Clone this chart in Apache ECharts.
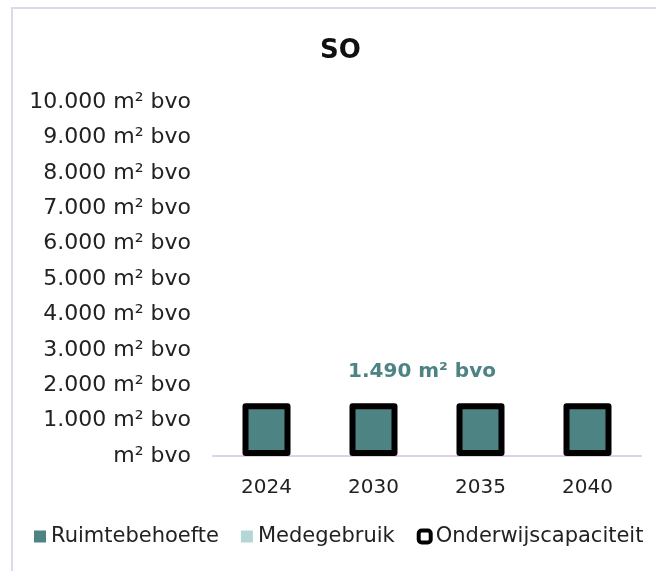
<!DOCTYPE html>
<html><head><meta charset="utf-8">
<script src="https://cdn.jsdelivr.net/npm/echarts@6/dist/echarts.min.js"></script>
<style>html,body{margin:0;padding:0;background:#fff}#c{width:656px;height:571px}</style>
</head><body><div id="c"></div>
<script>
const categories = ['2024', '2030', '2035', '2040'];
const ruimtebehoefte = [1420, 1420, 1470, 1470];
const medegebruik = [40, 40, 0, 0];
const onderwijscapaciteit = [1490, 1490, 1490, 1490];
const yTickLabels = ['m² bvo', '1.000 m² bvo', '2.000 m² bvo', '3.000 m² bvo', '4.000 m² bvo', '5.000 m² bvo',
  '6.000 m² bvo', '7.000 m² bvo', '8.000 m² bvo', '9.000 m² bvo', '10.000 m² bvo'];
const capacityLabel = '1.490 m² bvo';

const FONT = 'DejaVu Sans';
const chart = echarts.init(document.getElementById('c'), null, {renderer: 'canvas'});
chart.setOption({
  animation: false,
  backgroundColor: '#fff',
  title: {text: 'SO', left: 315, top: 33,
    textStyle: {fontFamily: FONT, fontSize: 26, fontWeight: 'bold', color: '#111'}},
  grid: {left: 213, right: 15, top: 102, bottom: 115},
  legend: {
    left: 29, top: 521, itemWidth: 12, itemHeight: 12, itemGap: 22,
    textStyle: {fontFamily: FONT, fontSize: 21, color: '#222'},
    data: [
      {name: 'Ruimtebehoefte', icon: 'rect'},
      {name: 'Medegebruik', icon: 'rect'},
      {name: 'Onderwijscapaciteit', icon: 'roundRect', itemStyle: {color: '#fff', borderColor: '#000', borderWidth: 4}}
    ]
  },
  xAxis: [
    {type: 'category', data: categories,
      axisLine: {lineStyle: {color: '#dcd3e8', width: 2}}, axisTick: {show: false},
      axisLabel: {fontFamily: FONT, fontSize: 20, color: '#222', margin: 22}},
    {type: 'category', data: categories, show: false}
  ],
  yAxis: {type: 'value', min: 0, max: 10000, interval: 1000,
    splitLine: {show: false}, axisLine: {show: false}, axisTick: {show: false},
    axisLabel: {fontFamily: FONT, fontSize: 22, color: '#222', margin: 22,
      formatter: (v) => yTickLabels[Math.round(v / 1000)]}},
  series: [
    {name: 'Ruimtebehoefte', type: 'bar', stack: 'a', barWidth: 38, data: ruimtebehoefte,
      itemStyle: {color: '#4e8384'}},
    {name: 'Medegebruik', type: 'bar', stack: 'a', barWidth: 38, data: medegebruik,
      itemStyle: {color: '#b4d6d6'}},
    {name: 'Onderwijscapaciteit', type: 'bar', xAxisIndex: 1, barWidth: 48, data: onderwijscapaciteit, z: 5,
      itemStyle: {color: 'rgba(0,0,0,0)', borderColor: '#000', borderWidth: 6, borderRadius: 0, borderJoin: 'round'}}
  ],
  graphic: [
    {type: 'rect', shape: {x: 12, y: 8, width: 700, height: 700},
      style: {fill: 'none', stroke: '#e0d8ea', lineWidth: 2}, silent: true, z: -10},
    {type: 'text', x: 422, y: 372, style: {text: capacityLabel, align: 'center', verticalAlign: 'middle',
      fontFamily: FONT, fontSize: 20, fontWeight: 'bold', fill: '#4e8384'}}
  ]
});
</script></body></html>
